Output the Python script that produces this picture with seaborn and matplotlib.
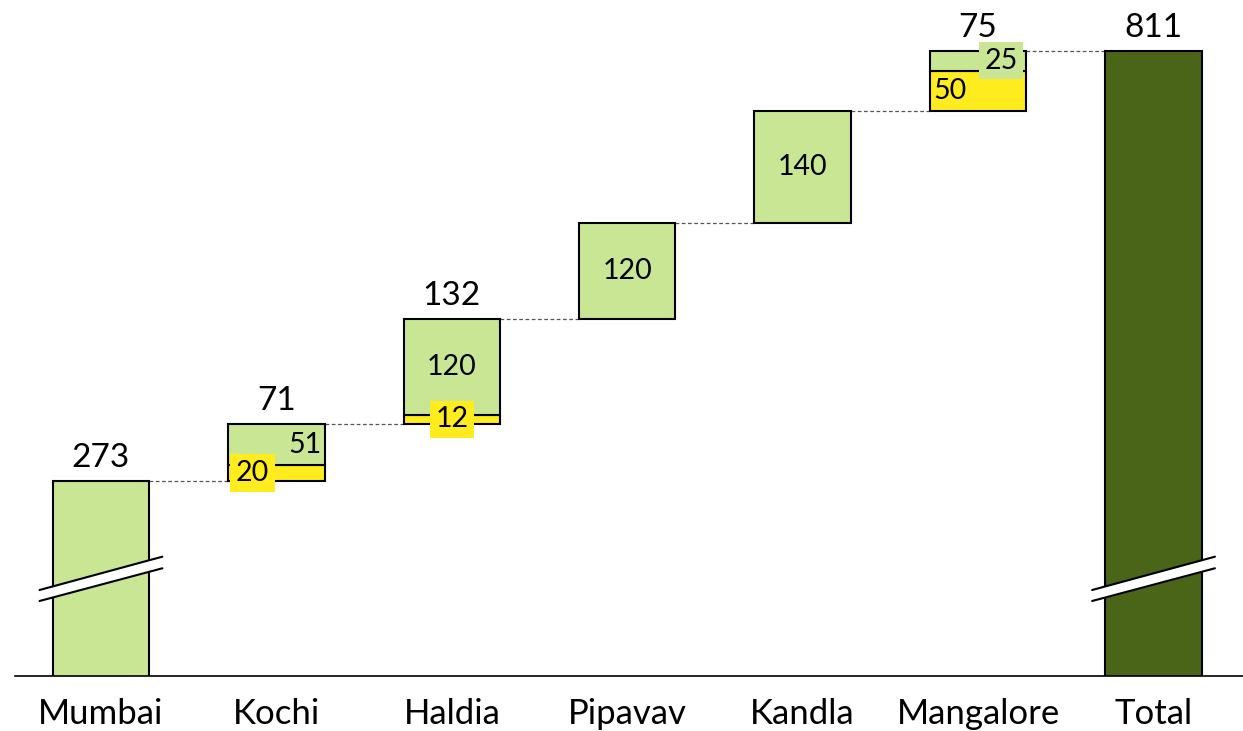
import numpy as np
import pandas as pd
import matplotlib
matplotlib.use("Agg")
import matplotlib.pyplot as plt
import seaborn as sns

ports = ['Mumbai', 'Kochi', 'Haldia', 'Pipavav', 'Kandla', 'Mangalore', 'Total']
yellow_part = [0, 20, 12, 0, 0, 50]
green_part = [273, 51, 120, 120, 140, 25]
port_totals = [273, 71, 132, 120, 140, 75]
grand_total = 811

light_green = '#C8E693'
yellow = '#FFEC1E'
dark_green = '#4A6418'

sns.set_theme(style='white')
plt.rcParams['font.family'] = ['Lato', 'DejaVu Sans']
plt.rcParams['text.color'] = 'black'

fig = plt.figure(figsize=(12.43, 7.31), dpi=100)
ax = fig.add_axes([15 / 1243, 55 / 731, 1228 / 1243, 666 / 731])

# build the stacked segments of the waterfall
rows = []
level = 0
for i, p in enumerate(ports[:-1]):
    if yellow_part[i] > 0:
        rows.append((p, yellow_part[i], level, yellow))
    rows.append((p, green_part[i], level + yellow_part[i], light_green))
    level += port_totals[i]
rows.append(('Total', grand_total, 0, dark_green))
seg = pd.DataFrame(rows, columns=['port', 'value', 'bottom', 'color'])

for _, r in seg.iterrows():
    sns.barplot(x=[r['port']], y=[r['value']], order=ports, bottom=r['bottom'],
                color=r['color'], saturation=1, width=0.55,
                edgecolor='black', linewidth=1.5, ax=ax, zorder=2)

ax.set_xlim(-0.49, 6.51)
ax.set_ylim(29.25, 861.75)

# connector lines
cum = np.cumsum(port_totals)
hw = 0.275
for i in range(len(ports) - 1):
    ax.plot([i + hw, i + 1 - hw], [cum[i], cum[i]], color='#555555',
            linestyle=(0, (3, 2)), linewidth=0.9, zorder=1)

# labels on top of bars
fs_big = 24
fs_tick = 25
fs_in = 20.5
tops = list(cum) + [grand_total]
top_labels = [273, 71, 132, None, None, 75, 811]
for i, lab in enumerate(top_labels):
    if lab is None:
        continue
    ax.annotate(str(lab), (i, tops[i]), xytext=(0, 10), textcoords='offset points',
                ha='center', va='baseline', fontsize=fs_big, color='black')

# labels inside segments
starts = np.concatenate([[0], cum[:-1]])
box_pad = 4
# Kochi
ax.text(1 - 0.135, starts[1] + yellow_part[1] / 2, '20', ha='center', va='center',
        fontsize=fs_in, color='black', zorder=5,
        bbox=dict(facecolor=yellow, edgecolor='none', pad=box_pad))
ax.text(1 + 0.255, starts[1] + yellow_part[1] + green_part[1] / 2, '51', ha='right',
        va='center', fontsize=fs_in, color='black', zorder=5)
# Haldia
ax.text(2, starts[2] + yellow_part[2] / 2, '12', ha='center', va='center',
        fontsize=fs_in, color='black', zorder=5,
        bbox=dict(facecolor=yellow, edgecolor='none', pad=box_pad))
ax.text(2, starts[2] + yellow_part[2] + green_part[2] / 2, '120', ha='center',
        va='center', fontsize=fs_in, color='black', zorder=5)
# Pipavav, Kandla
for i in (3, 4):
    ax.text(i, starts[i] + green_part[i] / 2, str(green_part[i]), ha='center',
            va='center', fontsize=fs_in, color='black', zorder=5)
# Mangalore
ax.text(5 - 0.255, starts[5] + yellow_part[5] / 2, '50', ha='left', va='center',
        fontsize=fs_in, color='black', zorder=5)
ax.text(5 + 0.225, starts[5] + yellow_part[5] + green_part[5] / 2, '25', ha='right',
        va='center', fontsize=fs_in, color='black', zorder=5,
        bbox=dict(facecolor=light_green, edgecolor='none', pad=box_pad))

# axis break marks on Mumbai and Total
for i in (0, 6):
    xs = [i - 0.35, i + 0.35]
    top_line = [136.75, 178.4]
    bot_line = [123, 163.9]
    ax.fill_between(xs, bot_line, top_line, color='white', zorder=6, linewidth=0)
    ax.plot(xs, top_line, color='black', linewidth=1.5, zorder=7)
    ax.plot(xs, bot_line, color='black', linewidth=1.5, zorder=7)

sns.despine(ax=ax, left=True, top=True, right=True)
ax.spines['bottom'].set_color('black')
ax.spines['bottom'].set_linewidth(1.2)
ax.set_yticks([])
ax.set_xlabel('')
ax.set_ylabel('')
ax.tick_params(axis='x', length=0, labelsize=fs_tick, pad=16, colors='black')

fig.savefig('out.png', dpi=100)
